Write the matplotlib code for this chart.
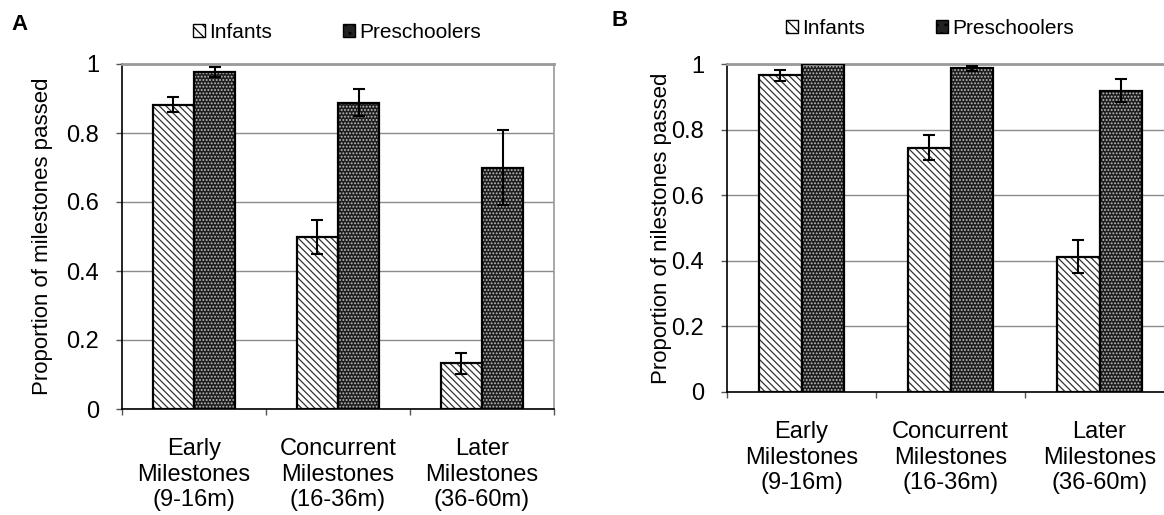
import numpy as np
import matplotlib
matplotlib.use('Agg')
import matplotlib.pyplot as plt
from matplotlib.patches import Patch

plt.rcParams['font.family'] = 'Liberation Sans'
plt.rcParams['hatch.linewidth'] = 0.9

groups = ['Early\nMilestones\n(9-16m)',
          'Concurrent\nMilestones\n(16-36m)',
          'Later\nMilestones\n(36-60m)']
series = ['Infants', 'Preschoolers']

# panel A
infants_a = [0.882, 0.499, 0.132]
infants_a_err = [0.022, 0.050, 0.030]
pre_a = [0.977, 0.888, 0.699]
pre_a_err = [0.014, 0.039, 0.109]

# panel B
infants_b = [0.965, 0.745, 0.413]
infants_b_err = [0.017, 0.038, 0.051]
pre_b = [1.0, 0.987, 0.919]
pre_b_err = [0.0, 0.007, 0.036]

yticks = [0, 0.2, 0.4, 0.6, 0.8, 1]

inf_style = dict(facecolor='white', edgecolor='#333333', hatch='\\\\\\\\\\')
pre_style = dict(facecolor='#1e1e1e', edgecolor='#bdbdbd', hatch='.....')


def draw_panel(ax, inf, inf_err, pre, pre_err, ylabel, label_x):
    x = np.arange(len(groups)) + 0.5
    w = 0.287
    for xs, vals, errs, st in [(x - w / 2, inf, inf_err, inf_style),
                               (x + w / 2, pre, pre_err, pre_style)]:
        ax.bar(xs, vals, w, linewidth=0, zorder=2, **st)
        ax.bar(xs, vals, w, fill=False, edgecolor='black', linewidth=1.6, zorder=3)
        ax.errorbar(xs, vals, yerr=errs, fmt='none', ecolor='black',
                    elinewidth=1.5, capsize=4.5, capthick=1.5, zorder=4)

    ax.set_xlim(0, len(groups))
    ax.set_ylim(0, 1)
    ax.set_yticks(yticks)
    ax.set_yticklabels([f'{v:g}' for v in yticks])
    ax.yaxis.grid(True, color='#8a8a8a', linewidth=1.0)
    ax.set_axisbelow(True)

    # category boundaries get the tick marks, labels sit in between
    ax.set_xticks(np.arange(len(groups) + 1))
    ax.set_xticklabels([])
    ax.set_xticks(x, minor=True)
    ax.set_xticklabels(groups, minor=True)
    for t in ax.get_xticklabels(minor=True):
        t.set_linespacing(1.2)
    ax.tick_params(axis='x', which='major', length=4.5, width=1, color='#555555')
    ax.tick_params(axis='x', which='minor', length=0, pad=21, labelsize=17)
    ax.tick_params(axis='y', length=4.5, width=1, color='#555555', pad=12, labelsize=17)

    ax.spines['left'].set_color('black')
    ax.spines['left'].set_linewidth(1.2)
    ax.spines['bottom'].set_color('black')
    ax.spines['bottom'].set_linewidth(1.2)
    ax.spines['top'].set_color('#9a9a9a')
    ax.spines['top'].set_linewidth(2)
    ax.spines['right'].set_color('#9a9a9a')
    ax.spines['right'].set_linewidth(1.2)

    ax.set_ylabel(ylabel, fontsize=16)
    ax.yaxis.set_label_coords(label_x, 0.5)


fig = plt.figure(figsize=(11.64, 5.15), dpi=100)
ax_a = fig.add_axes([122 / 1164, 106 / 515, 432 / 1164, 345 / 515])
ax_b = fig.add_axes([727 / 1164, 123 / 515, 447 / 1164, 328 / 515])

draw_panel(ax_a, infants_a, infants_a_err, pre_a, pre_a_err,
           'Proportion of milestones passed', -0.16)
draw_panel(ax_b, infants_b, infants_b_err, pre_b, pre_b_err,
           'Proportion of nilestones passed', -0.123)

handles = [Patch(facecolor='white', edgecolor='black', hatch='\\\\\\'),
           Patch(facecolor='#222222', edgecolor='black', hatch='..')]
for cx, cy in [(337 / 1164, 1 - 32 / 515), (930 / 1164, 1 - 28 / 515)]:
    fig.legend(handles, series, loc='center', bbox_to_anchor=(cx, cy), ncol=2,
               frameon=False, fontsize=15, handlelength=0.6, handleheight=0.6,
               handletextpad=0.2, columnspacing=3.4, borderpad=0)

fig.text(20 / 1164, 1 - 24 / 515, 'A', fontsize=16, fontweight='bold', ha='center', va='center')
fig.text(620 / 1164, 1 - 21 / 515, 'B', fontsize=16, fontweight='bold', ha='center', va='center')

fig.savefig('out.png', dpi=100)
